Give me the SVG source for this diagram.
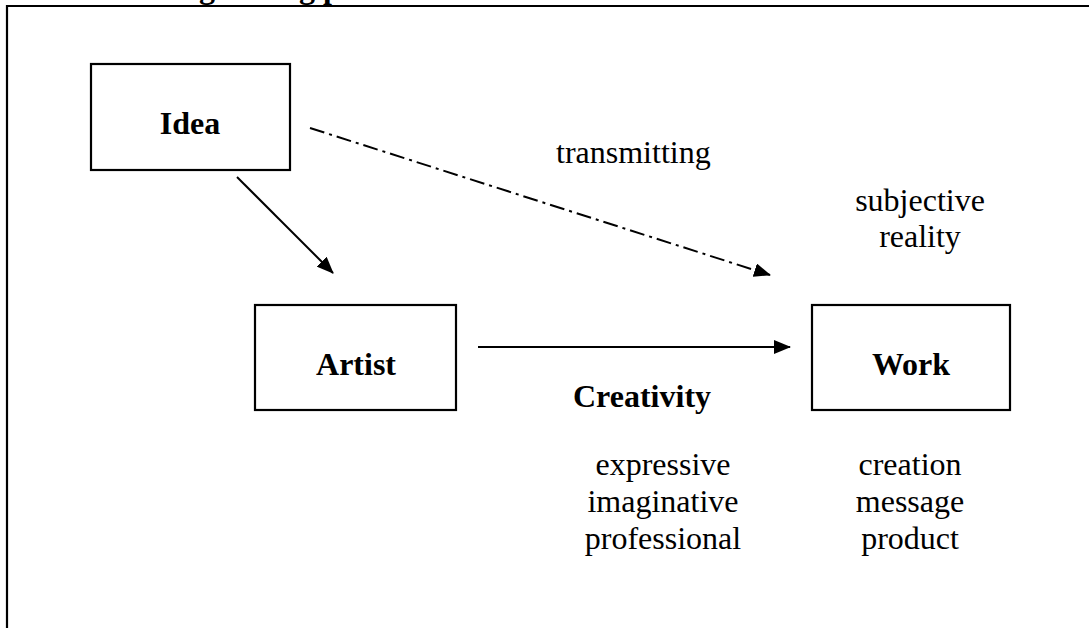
<svg xmlns="http://www.w3.org/2000/svg" width="1089" height="628" viewBox="0 0 1089 628">
  <style>
    .box { fill: #fff; stroke: #000; stroke-width: 2.2; }
    .frame { fill: none; stroke: #000; stroke-width: 2.2; }
    .lbl { font-family: "Liberation Serif", "Times New Roman", serif; font-size: 32px; fill: #000; }
    .b { font-weight: bold; }
    .c { text-anchor: middle; }
    .conn { fill: none; stroke: #000; stroke-width: 2; }
    .dd { stroke-dasharray: 15 5 3 5; }
  </style>
  <defs>
    <marker id="ah" markerUnits="userSpaceOnUse" markerWidth="17" markerHeight="14" refX="16" refY="7" orient="auto">
      <path d="M0,0 L17,7 L0,14 z" fill="#000"/>
    </marker>
  </defs>
  <rect width="1089" height="628" fill="#fff"/>
  <g id="title">
    <text class="lbl b" x="199" y="-2">g</text>
    <text class="lbl b" x="299" y="-2">g p</text>
  </g>
  <path class="frame" d="M7,628 V6 H1089"/>
  <g id="connectors">
    <line class="conn" x1="237" y1="177" x2="333" y2="273" marker-end="url(#ah)"/>
    <line class="conn dd" x1="310" y1="128" x2="770" y2="275" marker-end="url(#ah)"/>
    <line class="conn" x1="478" y1="347" x2="790" y2="347" marker-end="url(#ah)"/>
  </g>
  <g id="idea">
    <rect class="box" x="91" y="64" width="199" height="106"/>
    <text class="lbl b c" x="190" y="134">Idea</text>
  </g>
  <g id="artist">
    <rect class="box" x="255" y="305" width="201" height="105"/>
    <text class="lbl b c" x="356" y="375">Artist</text>
  </g>
  <g id="work">
    <rect class="box" x="812" y="305" width="198" height="105"/>
    <text class="lbl b c" x="911" y="375">Work</text>
  </g>
  <g id="labels">
    <text class="lbl" x="556" y="163">transmitting</text>
    <text class="lbl c" x="920" y="211">subjective</text>
    <text class="lbl c" x="920" y="247">reality</text>
    <text class="lbl b" x="573" y="407">Creativity</text>
    <text class="lbl c" x="663" y="475">expressive</text>
    <text class="lbl c" x="663" y="512">imaginative</text>
    <text class="lbl c" x="663" y="549">professional</text>
    <text class="lbl c" x="910" y="475">creation</text>
    <text class="lbl c" x="910" y="512">message</text>
    <text class="lbl c" x="910" y="549">product</text>
  </g>
</svg>
